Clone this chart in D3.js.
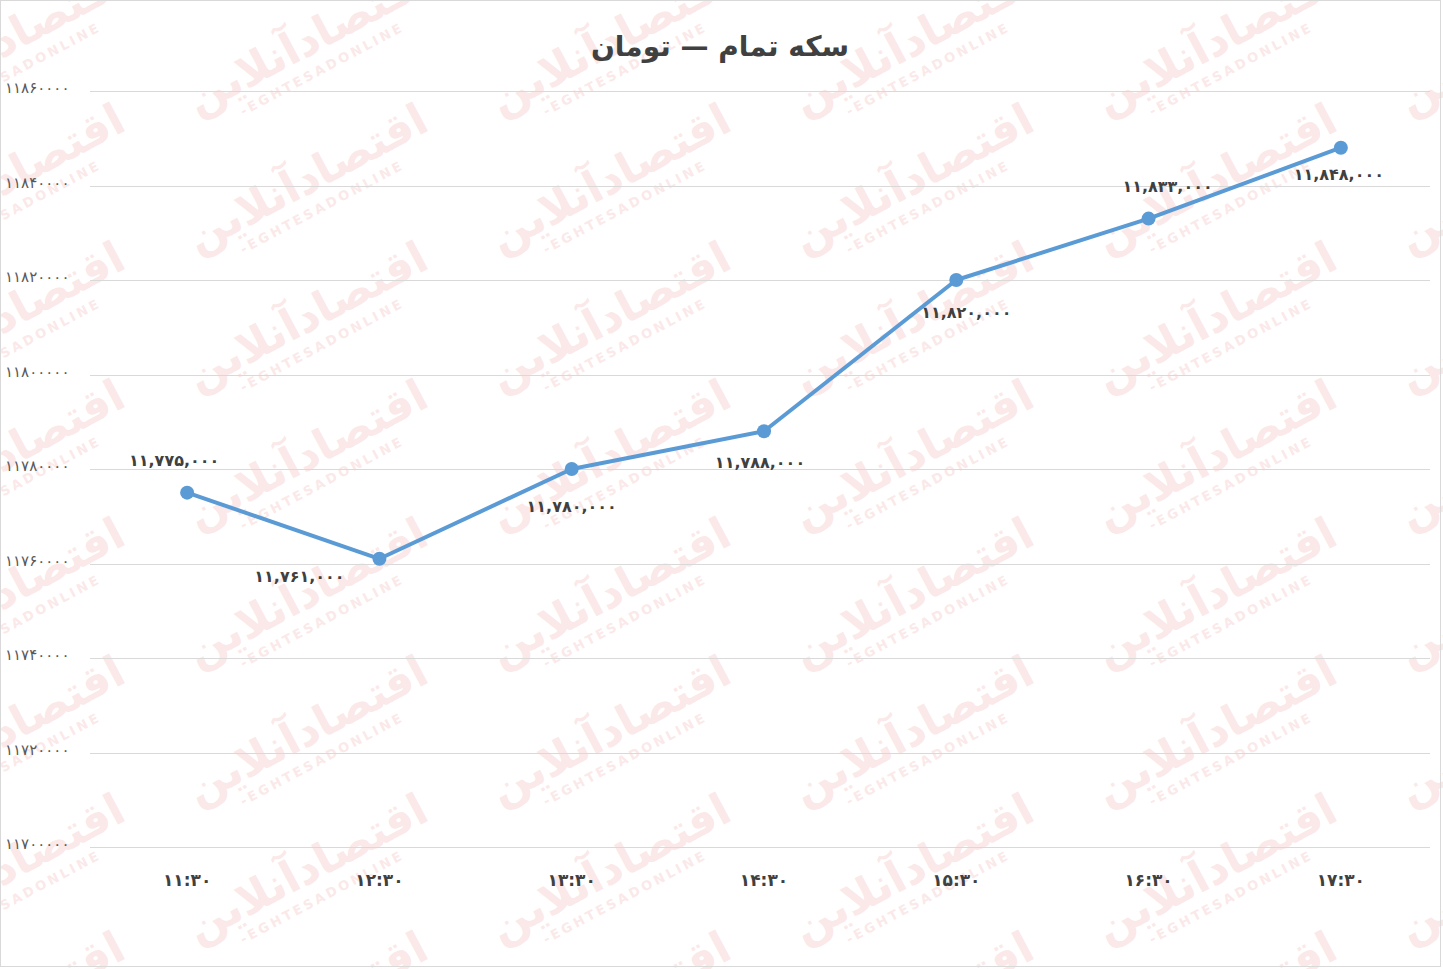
<!DOCTYPE html>
<html>
<head>
<meta charset="utf-8">
<script src="https://cdn.jsdelivr.net/npm/d3@7"></script>
<style>
  body { margin: 0; background: #fff; }
  svg { display: block; font-family: 'DejaVu Sans', sans-serif; }
</style>
</head>
<body>
<svg id="chart" width="1443" height="969"></svg>
<script>
const TITLE = 'سکه تمام — تومان';
const hours = ['11:30', '12:30', '13:30', '14:30', '15:30', '16:30', '17:30'];
const prices = [11775000, 11761000, 11780000, 11788000, 11820000, 11833000, 11848000];
const yTicks = [11700000, 11720000, 11740000, 11760000, 11780000, 11800000, 11820000, 11840000, 11860000];
// where each data label sits relative to its point (px)
const labelOffsets = [[-13, -33], [-80, 17], [0, 37], [-4, 31], [10, 32], [19, -33], [-2, 26]];

const LINE_COLOR = '#5b9bd5';

const faDigits = '۰۱۲۳۴۵۶۷۸۹';
const toFa = s => String(s).replace(/[0-9]/g, d => faDigits[+d]);

const svg = d3.select('#chart');

// watermark tiles
const marks = svg.append('g').attr('class', 'watermark');
for (let i = -1; i < 5; i++) {
  for (let j = -1; j < 7; j++) {
    const g = marks.append('g')
      .attr('transform', `translate(${312 + 303 * i},${188 + 138 * j}) rotate(-28)`)
      .attr('fill', '#ec8f8f')
      .attr('opacity', 0.2);
    g.append('text')
      .attr('text-anchor', 'middle')
      .attr('font-size', 44)
      .attr('font-weight', 'bold')
      .attr('y', 4)
      .text('اقتصادآنلاین');
    g.append('text')
      .attr('text-anchor', 'middle')
      .attr('font-size', 13)
      .attr('font-weight', 'bold')
      .attr('letter-spacing', 3)
      .attr('y', 26)
      .text('-EGHTESADONLINE');
  }
}

const x = d3.scalePoint()
  .domain(hours)
  .range([91, 1437])
  .padding(0.5);
const y = d3.scaleLinear()
  .domain([11700000, 11860000])
  .range([847, 91]);

// gridlines
svg.append('g')
  .selectAll('line')
  .data(yTicks)
  .join('line')
  .attr('x1', 90)
  .attr('x2', 1430)
  .attr('y1', d => Math.round(y(d)) + 0.5)
  .attr('y2', d => Math.round(y(d)) + 0.5)
  .attr('stroke', '#d9d9d9')
  .attr('stroke-width', 1);

// y tick labels
svg.append('g')
  .selectAll('text')
  .data(yTicks)
  .join('text')
  .attr('x', 5)
  .attr('y', d => y(d) + 2)
  .attr('font-size', 15)
  .attr('fill', '#595959')
  .text(d => toFa(d));

// x labels
svg.append('g')
  .selectAll('text')
  .data(hours)
  .join('text')
  .attr('x', d => x(d))
  .attr('y', 886)
  .attr('text-anchor', 'middle')
  .attr('font-size', 17)
  .attr('font-weight', 'bold')
  .attr('fill', '#404040')
  .text(d => toFa(d));

const points = hours.map((h, i) => ({ h, v: prices[i], off: labelOffsets[i] }));

svg.append('path')
  .datum(points)
  .attr('fill', 'none')
  .attr('stroke', LINE_COLOR)
  .attr('stroke-width', 4)
  .attr('stroke-linejoin', 'round')
  .attr('d', d3.line().x(d => x(d.h)).y(d => y(d.v)));

svg.append('g')
  .selectAll('circle')
  .data(points)
  .join('circle')
  .attr('cx', d => x(d.h))
  .attr('cy', d => y(d.v))
  .attr('r', 7)
  .attr('fill', LINE_COLOR);

const fmt = d3.format(',');
svg.append('g')
  .selectAll('text')
  .data(points)
  .join('text')
  .attr('x', d => x(d.h) + d.off[0])
  .attr('y', d => y(d.v) + d.off[1] + 6)
  .attr('text-anchor', 'middle')
  .attr('font-size', 16)
  .attr('font-weight', 'bold')
  .attr('fill', '#404040')
  .text(d => toFa(fmt(d.v)));

svg.append('text')
  .attr('x', 720)
  .attr('y', 56)
  .attr('text-anchor', 'middle')
  .attr('font-size', 28)
  .attr('font-weight', 'bold')
  .attr('fill', '#404040')
  .text(TITLE);

svg.append('rect')
  .attr('x', 0.5)
  .attr('y', 0.5)
  .attr('width', 1440)
  .attr('height', 966)
  .attr('fill', 'none')
  .attr('stroke', '#d9d9d9');
</script>
</body>
</html>
